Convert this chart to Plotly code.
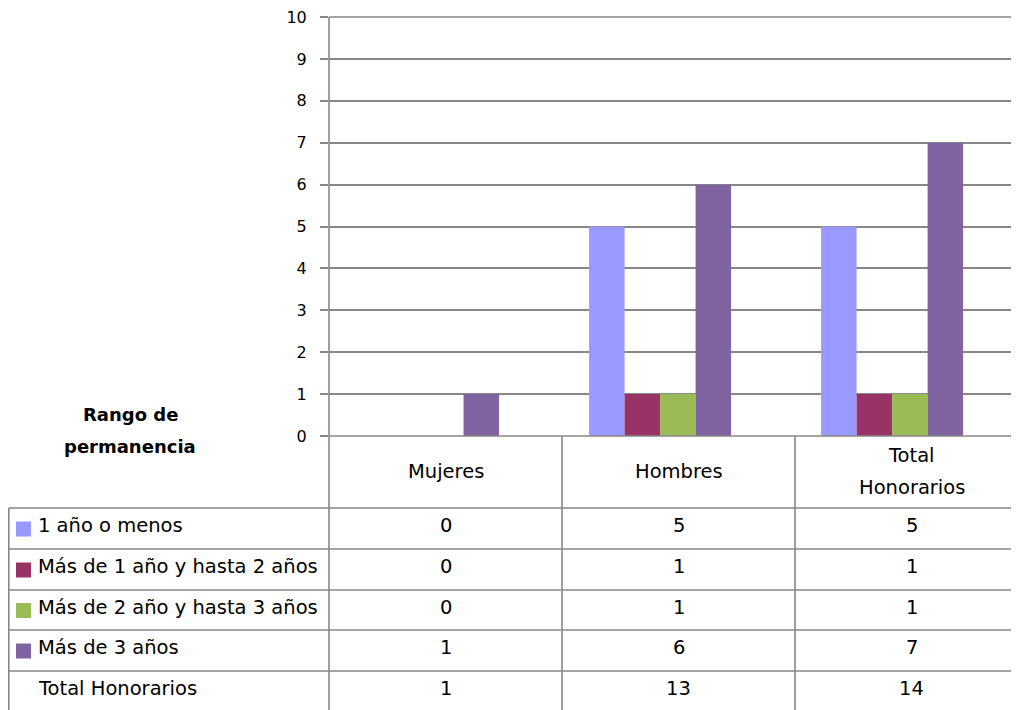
import plotly.graph_objects as go

categories = ["Mujeres", "Hombres", "Total Honorarios"]
header_lines = [["Mujeres"], ["Hombres"], ["Total", "Honorarios"]]
series_names = ["1 año o menos", "Más de 1 año y hasta 2 años",
                "Más de 2 año y hasta 3 años", "Más de 3 años"]
v_1_o_menos = [0, 5, 5]
v_1_a_2 = [0, 1, 1]
v_2_a_3 = [0, 1, 1]
v_mas_3 = [1, 6, 7]
totals_label = "Total Honorarios"
totals = [1, 13, 14]
y_ticks = list(range(0, 11))
table_title = ["Rango de", "permanencia"]

series_values = [v_1_o_menos, v_1_a_2, v_2_a_3, v_mas_3]
colors = ["#9999FF", "#993366", "#9BBB59", "#8064A2"]

OFF = 8  # page body margin
W, H = 1019 - OFF, 710 - OFF
L, R, T, B = 329, 1019, 17, 436   # reference pixel coords of plot area
GRID = "#878787"
FONT = "DejaVu Sans"

def px(x):
    return (x - L) / (R - L)

def py(y):
    return (B - y) / (B - T)

fig = go.Figure()
for name, vals, c in zip(series_names, series_values, colors):
    fig.add_trace(go.Bar(x=[0, 1, 2], y=vals, name=name, marker=dict(color=c, line=dict(width=0)),
                         showlegend=False))

shapes = []
ann = []
def line(x0, y0, x1, y1):
    shapes.append(dict(type="line", xref="paper", yref="paper", x0=px(x0), y0=py(y0),
                       x1=px(x1), y1=py(y1), line=dict(color=GRID, width=1.6), layer="above"))

# table grid
col_edges = [329, 562, 795, 1028]
row_edges = [508, 549, 590, 630, 671, 712]
line(329, T, 329, 720)
line(562, B, 562, 720)
line(795, B, 795, 720)
line(8.8, 508, 8.8, 720)
for ry in row_edges[:-1]:
    line(8.8, ry, 1030, ry)
line(329, B, 1030, B)
line(329, T, 1030, T)

col_centers = [(col_edges[i] + col_edges[i + 1]) / 2 for i in range(3)]
tf = dict(family=FONT, size=19.5, color="black")
for cx, lines in zip(col_centers, header_lines):
    ys = [471] if len(lines) == 1 else [455, 487]
    for lab, hy in zip(lines, ys):
        ann.append(dict(x=px(cx), y=py(hy), xref="paper", yref="paper", text=lab, showarrow=False,
                        font=tf, xanchor="center", yanchor="middle", align="center"))

rows = list(zip(series_names, series_values, colors)) + [(totals_label, totals, None)]
for i, (name, vals, c) in enumerate(rows):
    cy = (row_edges[i] + row_edges[i + 1]) / 2 - 3
    if c:
        shapes.append(dict(type="rect", xref="paper", yref="paper", x0=px(16), x1=px(31),
                           y0=py(cy - 4), y1=py(cy + 11), fillcolor=c, line=dict(width=0)))
    ann.append(dict(x=px(36), y=py(cy), xref="paper", yref="paper", text=name, showarrow=False,
                    font=tf, xanchor="left", yanchor="middle"))
    for cx, v in zip(col_centers, vals):
        ann.append(dict(x=px(cx), y=py(cy), xref="paper", yref="paper", text=str(v), showarrow=False,
                        font=tf, xanchor="center", yanchor="middle"))

for lab, ty in zip(table_title, [414, 446]):
    ann.append(dict(x=px(130), y=py(ty), xref="paper", yref="paper",
                    text="<b>" + lab + "</b>", showarrow=False,
                    font=dict(family=FONT, size=18, color="black"), xanchor="center",
                    yanchor="middle"))

fig.update_layout(
    width=W, height=H,
    margin=dict(l=L - OFF, r=0, t=T - OFF, b=H - (B - OFF), pad=0),
    paper_bgcolor="white", plot_bgcolor="white",
    barmode="group", bargap=0.388, bargroupgap=0,
    shapes=shapes, annotations=ann,
    xaxis=dict(range=[-0.427, 2.547], showticklabels=False, showgrid=False, zeroline=False,
               showline=False, ticks=""),
    yaxis=dict(range=[0, 10.001], tickvals=y_ticks, showgrid=True, gridcolor=GRID, gridwidth=1.6,
               zeroline=False, showline=False, ticks="outside", ticklen=8, tickcolor=GRID,
               tickwidth=1.6, ticklabelstandoff=10, ticklabeloverflow="allow",
               tickfont=dict(family=FONT, size=16, color="black")),
)
fig.write_html("out.html")
